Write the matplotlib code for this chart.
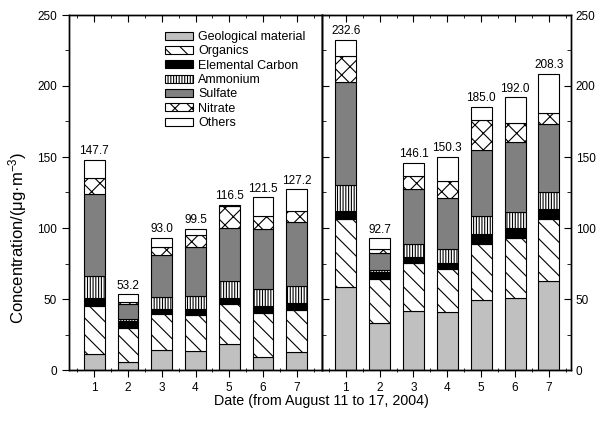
import matplotlib
matplotlib.use("Agg")
import matplotlib.pyplot as plt
import numpy as np
from matplotlib.ticker import MultipleLocator

plt.rcParams['font.family'] = ['Liberation Sans', 'DejaVu Sans']
plt.rcParams['mathtext.fontset'] = 'custom'
plt.rcParams['mathtext.rm'] = 'Liberation Sans'
plt.rcParams['mathtext.default'] = 'regular'
plt.rcParams['hatch.linewidth'] = 0.8

days = [1, 2, 3, 4, 5, 6, 7]
components = ["Geological material", "Organics", "Elemental Carbon", "Ammonium",
              "Sulfate", "Nitrate", "Others"]

# Left panel
left_geo = [11.3, 5.9, 14.1, 13.6, 18.3, 9.4, 12.9]
left_org = [34.0, 23.9, 25.3, 25.1, 28.2, 31.0, 29.6]
left_ec = [5.2, 5.0, 3.8, 4.0, 4.2, 4.7, 4.5]
left_amm = [15.9, 0.9, 8.4, 9.4, 11.7, 11.9, 12.4]
left_sul = [57.6, 10.5, 29.4, 34.8, 37.8, 42.5, 44.6]
left_nit = [11.0, 1.5, 5.9, 8.2, 15.3, 8.7, 7.7]
left_oth = [12.7, 5.5, 6.1, 4.4, 1.0, 13.3, 15.5]
left_total = [147.7, 53.2, 93.0, 99.5, 116.5, 121.5, 127.2]

# Right panel
right_geo = [58.7, 32.9, 41.8, 41.1, 49.1, 50.5, 62.9]
right_org = [47.6, 30.9, 33.8, 30.0, 39.9, 42.5, 43.2]
right_ec = [5.9, 5.4, 4.2, 4.0, 6.5, 6.8, 7.1]
right_amm = [18.1, 1.2, 8.7, 9.9, 13.2, 11.7, 12.4]
right_sul = [72.7, 12.2, 38.7, 36.4, 46.5, 49.1, 47.4]
right_nit = [18.4, 2.4, 9.7, 11.7, 20.9, 13.6, 8.2]
right_oth = [11.2, 7.7, 9.2, 17.2, 8.9, 17.8, 27.1]
right_total = [232.6, 92.7, 146.1, 150.3, 185.0, 192.0, 208.3]

styles = [
    dict(facecolor='#c0c0c0', hatch=None),
    dict(facecolor='white', hatch='\\\\'),
    dict(facecolor='black', hatch=None),
    dict(facecolor='white', hatch='||||||'),
    dict(facecolor='#808080', hatch=None),
    dict(facecolor='white', hatch='xx'),
    dict(facecolor='white', hatch=None),
]

W, H = 611, 423
fig = plt.figure(figsize=(W / 100, H / 100), dpi=100)
y0 = 1 - 370 / H
hgt = (370 - 15) / H
axL = fig.add_axes([69 / W, y0, (322 - 69) / W, hgt])
axR = fig.add_axes([322 / W, y0, (571 - 322) / W, hgt])


def draw(ax, series, totals, xlim):
    x = np.array(days)
    bottom = np.zeros(len(days))
    handles = []
    for vals, st, name in zip(series, styles, components):
        b = ax.bar(x, vals, 0.62, bottom=bottom, color=st['facecolor'],
                   hatch=st['hatch'], edgecolor='black', linewidth=0.8,
                   label=name, zorder=2)
        handles.append(b)
        bottom = bottom + np.array(vals)
    for xi, t in zip(x, totals):
        ax.text(xi, t + 2.0, f"{t:.1f}", ha='center', va='bottom', fontsize=8.5)
    ax.set_ylim(0, 250)
    ax.set_xlim(*xlim)
    ax.set_xticks(days)
    ax.xaxis.set_minor_locator(MultipleLocator(0.5))
    ax.yaxis.set_major_locator(MultipleLocator(50))
    ax.yaxis.set_minor_locator(MultipleLocator(25))
    ax.tick_params(axis='x', which='major', direction='out', length=5, width=0.8,
                   labelsize=8.5, top=False)
    ax.tick_params(axis='x', which='minor', direction='inout', length=3, width=0.6, top=False)
    for sp in ax.spines.values():
        sp.set_linewidth(1.0)
    # top ticks pointing inward
    axT = ax.twiny()
    axT.set_xlim(*xlim)
    axT.set_xticks(days)
    axT.xaxis.set_minor_locator(MultipleLocator(0.5))
    axT.tick_params(axis='x', which='major', direction='in', length=5, width=0.8,
                    labeltop=False)
    axT.tick_params(axis='x', which='minor', direction='in', length=2.5, width=0.6)
    for sp in axT.spines.values():
        sp.set_linewidth(1.0)
    return handles


handles = draw(axL, [left_geo, left_org, left_ec, left_amm, left_sul, left_nit, left_oth],
               left_total, (0.25, 7.75))
draw(axR, [right_geo, right_org, right_ec, right_amm, right_sul, right_nit, right_oth],
     right_total, (0.3, 7.65))

axL.tick_params(axis='y', which='major', left=True, right=False, direction='out', length=5,
                width=0.8, labelsize=8.5, labelleft=True, labelright=False)
axL.tick_params(axis='y', which='minor', left=True, right=False, direction='out', length=3,
                width=0.6)
axR.tick_params(axis='y', which='major', left=True, right=True, direction='in', length=5,
                width=0.8, labelsize=8.5, labelleft=False, labelright=True)
axR.tick_params(axis='y', which='minor', left=True, right=True, direction='in', length=3,
                width=0.6)

axL.legend(handles=handles, loc='upper left', bbox_to_anchor=(0.378, 0.955),
           frameon=False, fontsize=9, labelspacing=0.19, handlelength=2.3,
           handleheight=0.6, handletextpad=0.4, borderpad=0, borderaxespad=0)

fig.text(321 / W, 1 - 401 / H, "Date (from August 11 to 17, 2004)", ha='center',
         va='center', fontsize=10.3)
fig.text(18 / W, 1 - 238 / H, "Concentration/(μg·m$^{-3}$)", ha='center', va='center',
         rotation=90, fontsize=12)

fig.savefig("out.png", dpi=100)
